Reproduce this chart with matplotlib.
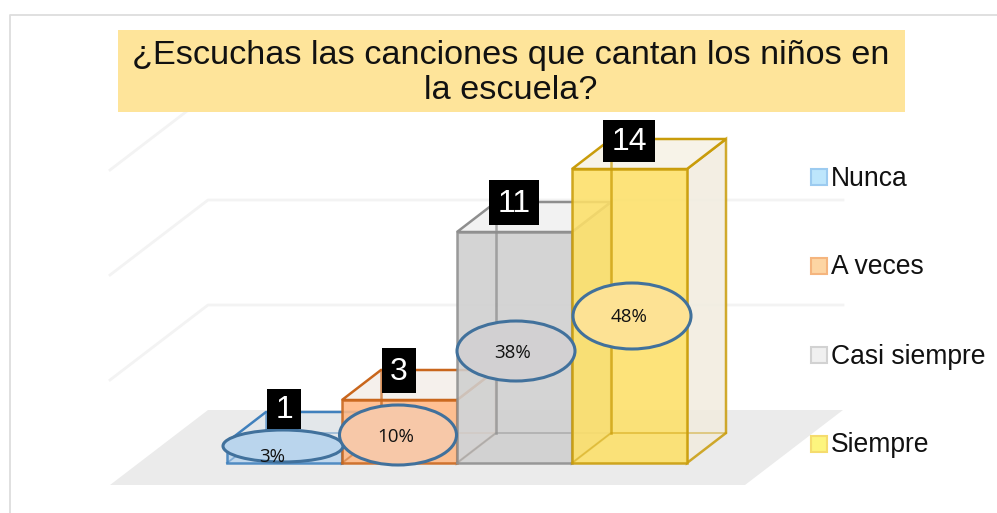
import matplotlib
matplotlib.use('Agg')
import matplotlib.pyplot as plt
from matplotlib.patches import Polygon, Ellipse, Rectangle

categories = ['Nunca', 'A veces', 'Casi siempre', 'Siempre']
counts = [1, 3, 11, 14]
percents = ['3%', '10%', '38%', '48%']
title = '¿Escuchas las canciones que cantan los niños en\nla escuela?'
grid_values = [5, 10, 15]

edge_colors = ['#3f80bd', '#c9661c', '#8e8e8e', '#c99c0a']
front_colors = ['#bcd6ee', '#ffb884', '#cfcfcf', '#fde068']
side_colors = ['#e3e7ea', '#f3efeb', '#d6d4d2', '#f1ecdf']
top_colors = ['#e3e7ea', '#f5f0ec', '#f2f2f2', '#f7f3e8']
legend_fill = ['#bde6fc', '#fdd5a3', '#f0f0f0', '#fdf57e']
legend_edge = ['#9ccbf0', '#f5b57e', '#d2d2d2', '#f5dc6e']
bubble_colors = ['#bad5ed', '#f7c8a8', '#d2d0d2', '#fde294']

# pixel scale of the fake 3d axes
px_per_unit = 21
base_y = 463
bar_left = 227
bar_w = 115
dx, dy = 39, -30

# callouts: centre x, centre y, width, height
bubbles = [(283, 446, 120, 32), (398, 435, 117, 60), (516, 351, 118, 60), (632, 316, 118, 66)]
# black count boxes: left, top, width, height
boxes = [(267, 389, 34, 40), (382, 348, 34, 45), (489, 180, 50, 45), (603, 120, 52, 42)]
legend_y = [177, 266, 355, 444]

fig = plt.figure(figsize=(9.97, 5.13), dpi=100)
ax = fig.add_axes([0, 0, 1, 1])
ax.set_xlim(0, 997)
ax.set_ylim(513, 0)
ax.axis('off')

# outer frame
ax.plot([10, 10, 997], [513, 15, 15], color='#dddddd', lw=1.3)

# floor and gridlines
ax.add_patch(Polygon([(110, 485), (745, 485), (843, 410), (208, 410)], fc='#ebebeb', ec='none'))
for g in grid_values:
    back = 410 - g * px_per_unit
    front = 485 - g * px_per_unit
    ax.plot([110, 208, 843], [front, back, back], color='#f3f3f3', lw=2)

for i, v in enumerate(counts):
    x0 = bar_left + i * bar_w
    x1 = x0 + bar_w
    top = base_y - v * px_per_unit
    e = edge_colors[i]
    z = 3 + i
    # inner back edges
    ax.plot([x0, x0 + dx, x1 + dx], [base_y, base_y + dy, base_y + dy], color=e, lw=1.5, alpha=0.5, zorder=z)
    ax.plot([x0 + dx, x0 + dx], [base_y + dy, top + dy], color=e, lw=2, alpha=0.7, zorder=z)
    # side, top, front
    ax.add_patch(Polygon([(x1, base_y), (x1 + dx, base_y + dy), (x1 + dx, top + dy), (x1, top)],
                         fc=side_colors[i], ec=e, lw=1.8, alpha=0.85, zorder=z))
    ax.add_patch(Polygon([(x0, top), (x0 + dx, top + dy), (x1 + dx, top + dy), (x1, top)],
                         fc=top_colors[i], ec=e, lw=1.8, zorder=z))
    ax.add_patch(Rectangle((x0, top), bar_w, v * px_per_unit, fc=front_colors[i], ec=e, lw=1.8,
                           alpha=0.88, zorder=z + 0.1))
    ax.plot([x0, x0 + dx, x1 + dx], [base_y, base_y + dy, base_y + dy], color=e, lw=1.2, alpha=0.45, zorder=z + 0.2)
    ax.plot([x0 + dx, x0 + dx], [base_y + dy, top + dy], color=e, lw=1.8, alpha=0.7, zorder=z + 0.2)

# percent callouts
label_dx = [-11, -2, -3, -3]
label_dy = [11, 2, 2, 1]
for i, (cx, cy, w, h) in enumerate(bubbles):
    ax.add_patch(Ellipse((cx, cy), w, h, fc=bubble_colors[i], ec='#41719c', lw=2.2, zorder=10))
    ax.text(cx + label_dx[i], cy + label_dy[i], percents[i], ha='center', va='center', fontsize=13.5,
            family='Open Sans', color='#111111', zorder=11)

# count labels
for i, (x, y, w, h) in enumerate(boxes):
    ax.add_patch(Rectangle((x, y), w, h, fc='black', ec='none', zorder=12))
    ax.text(x + w / 2, y + h / 2 + 1, str(counts[i]), ha='center', va='center', fontsize=23,
            family='Liberation Sans', color='white', zorder=13)

# title
ax.add_patch(Rectangle((118, 30), 787, 82, fc='#fee49a', ec='none', zorder=14))
ax.text(511, 73, title, ha='center', va='center', fontsize=24.7, family='Liberation Sans',
        color='#111111', linespacing=1.14, zorder=15)

# legend
for i, name in enumerate(categories):
    ax.add_patch(Rectangle((811, legend_y[i] - 8), 16, 16, fc=legend_fill[i], ec=legend_edge[i], lw=1.5))
    ax.text(831, legend_y[i] + 1.5, name, ha='left', va='center', fontsize=19.1, family='Liberation Sans', color='#111111')

fig.savefig('out.png', dpi=100)
